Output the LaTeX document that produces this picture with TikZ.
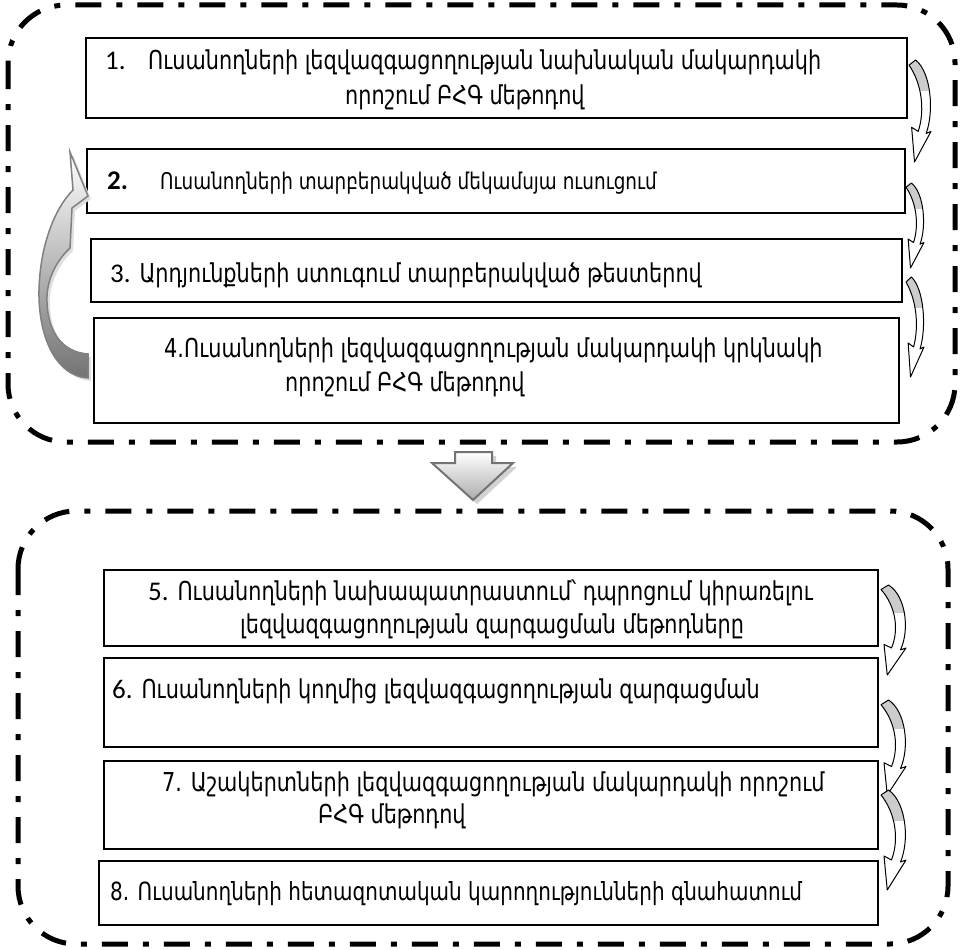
\documentclass[tikz,border=0pt]{standalone}
\usepackage{fontspec}
\setmainfont{DejaVu Sans}
\newfontfamily\armf[FakeStretch=0.8]{DejaVu Sans}
\newfontfamily\calf{Carlito}
\newcommand\AF{\armf\fontsize{26}{30}\selectfont}
\newcommand\NF{\calf\fontsize{27}{30}\selectfont}
\begin{document}
\begin{tikzpicture}[x=1pt,y=-1pt,
  container/.style={line width=5pt, dash pattern=on 26pt off 15pt on 6pt off 15pt, rounded corners=58pt},
  boxst/.style={draw, line width=2pt, inner sep=0pt, anchor=north west},
  txt/.style={anchor=base west, inner sep=0pt, font=\AF}
]
\useasboundingbox (0,0) rectangle (961,950);
% containers
\draw[container] (8,5) rectangle (955,442);
\draw[container] (18,511) rectangle (948,944);
% boxes
\node[boxst, minimum width=821pt, minimum height=80pt] (b1) at (85,37) {};
\node[boxst, minimum width=818pt, minimum height=64pt] (b2) at (86,148) {};
\node[boxst, minimum width=811pt, minimum height=63pt] (b3) at (90,238) {};
\node[boxst, minimum width=805pt, minimum height=105pt] (b4) at (93,317) {};
\node[boxst, minimum width=774pt, minimum height=76pt] (b5) at (103,569) {};
\node[boxst, minimum width=774pt, minimum height=89pt] (b6) at (103,657) {};
\node[boxst, minimum width=774pt, minimum height=88pt] (b7) at (103,760) {};
\node[boxst, minimum width=779pt, minimum height=64pt] (b8) at (98,860) {};
% texts
\node[txt] (t1a) at (105,70) {\makebox[43pt][l]{\NF 1.}Ուսանողների լեզվազգացողության նախնական  մակարդակի};
\node[txt] (t1b) at (345,104) {որոշում ԲՀԳ մեթոդով};
\node[txt, font=\armf\fontsize{23}{28}\selectfont] (t2) at (107,189) {\makebox[53pt][l]{\NF\bfseries 2.}Ուսանողների տարբերակված մեկամսյա ուսուցում};
\node[txt] (t3) at (110,282) {{\NF 3.} Արդյունքների ստուգում տարբերակված թեստերով};
\node[txt] (t4a) at (164,357) {4.Ուսանողների լեզվազգացողության մակարդակի կրկնակի};
\node[txt] (t4b) at (285,391) {որոշում ԲՀԳ մեթոդով};
\node[txt] (t5a) at (148,600) {{\NF 5.} Ուսանողների նախապատրաստում՝ դպրոցում կիրառելու};
\node[txt] (t5b) at (240,633) {լեզվազգացողության զարգացման մեթոդները};
\node[txt] (t6) at (112,698) {{\NF 6.} Ուսանողների կողմից լեզվազգացողության զարգացման};
\node[txt] (t7a) at (162,791) {7. Աշակերտների լեզվազգացողության մակարդակի որոշում};
\node[txt] (t7b) at (318,823) {ԲՀԳ մեթոդով};
\node[txt, font=\armf\fontsize{25}{30}\selectfont] (t8) at (110,900) {8. Ուսանողների հետազոտական կարողությունների գնահատում};
% down block arrow
\def\dpath{(455,452) -- (492,452) -- (492,463) -- (513,463) -- (473,500) -- (432,463) -- (455,463) -- cycle}
\fill[gray!35, shift={(4,4)}] \dpath;
\shadedraw[top color=white, bottom color=gray!65, draw=gray!90!black, line width=2pt] \dpath;
% left big curved arrow
\def\lpath{(88,378) .. controls (55,376) and (38,335) .. (39,290) .. controls (40,245) and (55,208) .. (73,190) -- (70,152) -- (88,196) -- (72,208) -- (70,248) .. controls (55,262) and (46,282) .. (47,302) .. controls (48,332) and (62,352) .. (88,354) -- cycle}
\fill[gray!25, shift={(3,3)}] \lpath;
\shadedraw[top color=white, bottom color=black!55, draw=gray, line width=1.5pt] \lpath;
% small curved arrows
\newcommand\rcurv[4]{%
\begin{scope}[shift={(#1,#2)}]
\def\W{#3}\def\H{#4}%
\def\rpath{(0.3*\W,0) .. controls (1.0*\W,0.12*\H) and (1.15*\W,0.5*\H) .. (0.78*\W,0.72*\H)
  -- (1.0*\W,0.7*\H) -- (0.25*\W,\H) -- (0.12*\W,0.66*\H) -- (0.42*\W,0.7*\H)
  .. controls (0.75*\W,0.48*\H) and (0.55*\W,0.22*\H) .. (0,0.05*\H) -- cycle}%
\fill[white] \rpath;
\begin{scope}
\clip (-5,-5) rectangle (\W+5,0.3*\H);
\fill[gray!40] \rpath;
\end{scope}
\draw[line width=1pt, line join=round] \rpath;
\end{scope}}
\rcurv{909}{60}{22}{102}
\rcurv{906}{183}{18}{85}
\rcurv{906}{277}{18}{100}
\rcurv{881}{585}{25}{90}
\rcurv{881}{700}{25}{95}
\rcurv{881}{790}{25}{100}
\end{tikzpicture}
\end{document}
